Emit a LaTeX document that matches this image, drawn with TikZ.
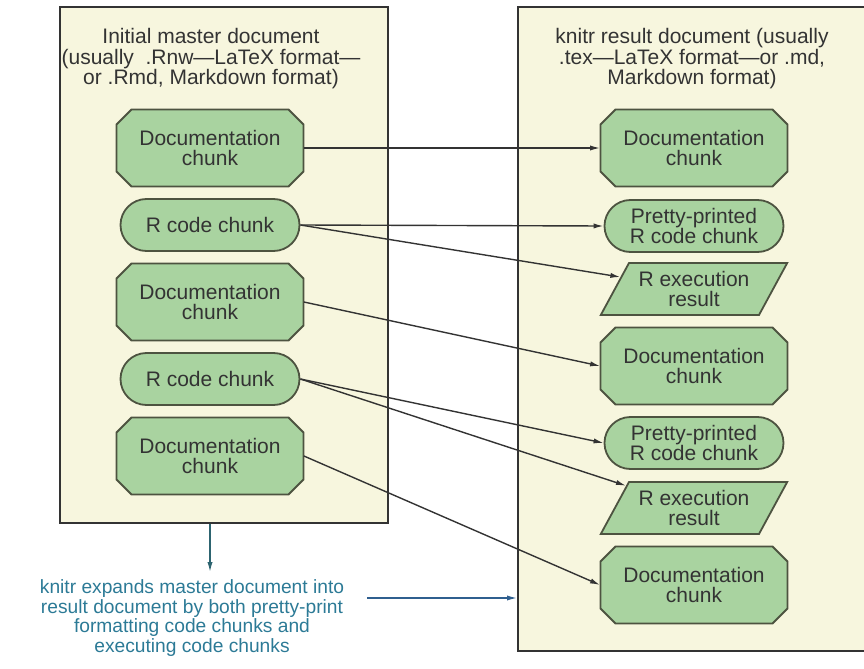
\documentclass[tikz,border=0pt]{standalone}
\usepackage{fontspec}
\setsansfont{Liberation Sans}
\usetikzlibrary{arrows.meta,positioning,shapes.misc,shapes.geometric}
\definecolor{panel}{HTML}{F7F6DE}
\definecolor{chunk}{HTML}{A9D3A0}
\definecolor{edge}{HTML}{4D5340}
\definecolor{ink}{HTML}{333333}
\definecolor{note}{HTML}{2C7A96}
\definecolor{noteline}{HTML}{2D6470}
\definecolor{noteblue}{HTML}{2F5F8F}

\begin{document}
\begin{tikzpicture}[x=0.5pt,y=-0.5pt,font=\sffamily\fontsize{10.5}{10.25}\selectfont,
  panelbox/.style={draw=ink,fill=panel,line width=1pt,inner sep=0pt},
  chunkline/.style={draw=edge,fill=chunk,line width=.9pt},
  doc/.style={rectangle,minimum width=93.5pt,minimum height=38.5pt,align=center,text=ink,inner sep=2pt},
  code/.style={rounded rectangle,chunkline,minimum width=93.5pt,
    minimum height=26pt,align=center,text=ink,inner sep=2pt},
  result/.style={trapezium,trapezium left angle=58,trapezium right angle=122,trapezium stretches=true,
    chunkline,minimum width=93.5pt,minimum height=26pt,align=center,text=ink,inner sep=1pt},
  flow/.style={ink,line width=.7pt,-{Latex[length=5pt,width=2.6pt]}}]
\useasboundingbox (0,0) rectangle (864,669);
% the two documents
\node[panelbox,minimum width=164pt,minimum height=258pt] (lpanel) at (224,265) {};
\node[panelbox,minimum width=176pt,minimum height=322pt] (rpanel) at (694,329) {};
\node[text=ink,align=center] (ltitle) at (211,59)
  {Initial master document\\(usually\ \ .Rnw—LaTeX format—\\or .Rmd, Markdown format)};
\node[text=ink,align=center] (rtitle) at (692,59)
  {knitr result document (usually\\.tex—LaTeX format—or .md,\\Markdown format)};
% documentation chunks, cut corners drawn behind the text
\foreach \nm/\cx/\cy in {ldoc1/210/148,ldoc2/210/302,ldoc3/210/456,rdoc1/694/148,rdoc2/694/366,rdoc3/694/585}{
  \filldraw[chunkline] (\cx-93.5,\cy-23.5) -- (\cx-78.5,\cy-38.5) -- (\cx+78.5,\cy-38.5) -- (\cx+93.5,\cy-23.5)
    -- (\cx+93.5,\cy+23.5) -- (\cx+78.5,\cy+38.5) -- (\cx-78.5,\cy+38.5) -- (\cx-93.5,\cy+23.5) -- cycle;
  \node[doc] (\nm) at (\cx,\cy) {Documentation\\chunk};
}
% code chunks
\node[code] (lcode1) at (210,225) {R code chunk};
\node[code] (lcode2) at (210,379) {R code chunk};
\node[code] (rpre1) at (694,226) {Pretty-printed\\R code chunk};
\node[result] (rexe1) at (694,289) {R execution\\result};
\node[code] (rpre2) at (694,443) {Pretty-printed\\R code chunk};
\node[result] (rexe2) at (694,508) {R execution\\result};
% chunk mapping
\draw[flow] (ldoc1.east) -- (rdoc1.west);
\draw[flow] (lcode1.east) -- (rpre1.west);
\draw[flow] (lcode1.east) -- (rexe1);
\draw[flow] (ldoc2.east) -- (rdoc2.west);
\draw[flow] (lcode2.east) -- (rpre2.west);
\draw[flow] (lcode2.east) -- (rexe2);
\draw[flow] (ldoc3.east) -- (rdoc3.west);
% knitr note
\node[text=note,align=center,font=\sffamily\fontsize{9.6}{8.6}\selectfont] (expand) at (192,618)
  {knitr expands master document into\\result document by both pretty-print\\formatting code chunks and\\executing code chunks};
\coordinate (drop) at (lpanel.south -| ldoc3);
\draw[noteline,line width=.7pt,-{Latex[length=5pt,width=2.6pt]}] (drop) -- (drop |- expand.north);
\coordinate (hstart) at (367,598);
\draw[noteblue,line width=.7pt,-{Latex[length=5pt,width=2.6pt]}] (hstart) -- (hstart -| rpanel.west);
\end{tikzpicture}
\end{document}
